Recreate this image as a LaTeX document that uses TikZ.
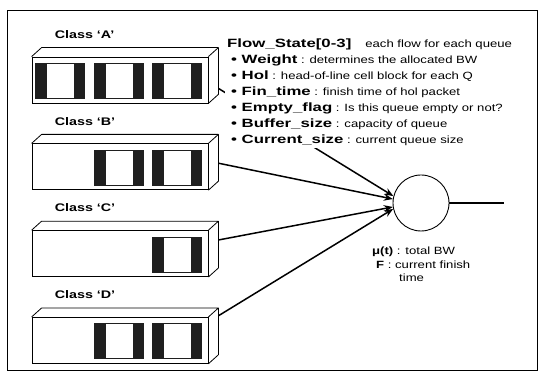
\documentclass[tikz,border=0pt]{standalone}
\usepackage{fontspec}
\setmainfont{Liberation Sans}
\newfontfamily\widefont[FakeStretch=1.25]{Liberation Sans}
\newfontfamily\keyfont[FakeStretch=1.3]{Liberation Sans}
\newfontfamily\kwwide[FakeStretch=1.4]{Liberation Sans}
\usetikzlibrary{arrows.meta, positioning, calc}
\tikzset{
  frontface/.style={rectangle, draw=black, fill=white,
    minimum width=176pt, minimum height=46pt, inner sep=0pt, line width=0.8pt},
  cellblock/.style={rectangle, fill=black!88, minimum width=50pt,
    minimum height=36pt, inner sep=0pt,
    path picture={\fill[white] ([xshift=12pt,yshift=1pt]path picture bounding box.south west)
      rectangle ([xshift=-11pt,yshift=-1pt]path picture bounding box.north east);}},
  classlabel/.style={font=\keyfont\bfseries\fontsize{11}{13}\selectfont, inner sep=0pt},
  server/.style={circle, draw=black, fill=white, minimum size=56pt,
    inner sep=0pt, line width=0.9pt},
  arrow/.style={-{Stealth[length=9pt,width=7pt]}, line width=1.5pt},
  line/.style={line width=1.2pt},
  edge/.style={line width=0.8pt, line join=round},
  frame/.style={line width=0.8pt},
  statelist/.style={fill=white, align=left, inner sep=2pt,
    font=\widefont\fontsize{10.5}{16}\selectfont},
  note/.style={align=left, inner sep=0pt, font=\widefont\fontsize{10.5}{13.5}\selectfont}
}
\newcommand{\kw}[1]{{\kwwide\bfseries\fontsize{12}{16}\selectfont #1}}

\begin{document}
\begin{tikzpicture}[x=1pt, y=1pt]
  \useasboundingbox (0,0) rectangle (542,379);
  \draw[frame] (7,9) rectangle (537,369);

  % queues
  \node[frontface] (qA) at (120,299) {};
  \node[frontface, below=40pt of qA] (qB) {};
  \node[frontface, below=40pt of qB] (qC) {};
  \node[frontface, below=40pt of qC] (qD) {};
  \foreach \q in {qA,qB,qC,qD}
    \draw[edge] (\q.north west) -- ++(10,9) -| ($(\q.south east)+(10,9)$) -- (\q.south east)
      (\q.north east) -- ++(10,9);

  \node[classlabel, above right=18pt and 23pt of qA.north west] (lA) {Class ‘A’};
  \node[classlabel, above right=18pt and 23pt of qB.north west] (lB) {Class ‘B’};
  \node[classlabel, above right=18pt and 23pt of qC.north west] (lC) {Class ‘C’};
  \node[classlabel, above right=18pt and 23pt of qD.north west] (lD) {Class ‘D’};

  % cells
  \foreach \q/\s in {qA/1,qA/2,qA/3,qB/2,qB/3,qC/3,qD/2,qD/3}
    \node[cellblock] (\q\s) at ($(\q)+({-118.5+58.5*\s},-1)$) {};

  % scheduler
  \node[server] (srv) at (421,176) {};
  \coordinate (out) at ($(srv.east)+(55,0)$);
  \draw[line] (srv) -- (out);

  \coordinate (oA) at ($(qA.south east)+(10,15)$);
  \coordinate (oB) at ($(qB.south east)+(10,27)$);
  \coordinate (oC) at ($(qC.south east)+(10,37)$);
  \coordinate (oD) at ($(qD.south east)+(10,48)$);
  \draw[arrow] (oA) -- (srv.166);
  \draw[arrow] (oB) -- (srv.172);
  \draw[arrow] (oC) -- (srv.188);
  \draw[arrow] (oD) -- (srv.192);

  \node[statelist, anchor=north west] (state) at (225,342) {%
    \kw{Flow\_State[0-3]}\hspace{14pt}each flow for each queue\\
    \hspace{4pt}\kw{\textbullet{} Weight} : determines the allocated BW\\
    \hspace{4pt}\kw{\textbullet{} Hol} : head-of-line cell block for each Q\\
    \hspace{4pt}\kw{\textbullet{} Fin\_time} : finish time of hol packet\\
    \hspace{4pt}\kw{\textbullet{} Empty\_flag} : Is this queue empty or not?\\
    \hspace{4pt}\kw{\textbullet{} Buffer\_size} : capacity of queue\\
    \hspace{4pt}\kw{\textbullet{} Current\_size} : current queue size};

  \node[note, anchor=north west] (mu) at (372,132) {%
    {\bfseries μ(t)} : total BW\\
    \hspace{4pt}{\bfseries F} : current finish\\
    \hspace{27pt}time};
\end{tikzpicture}
\end{document}
